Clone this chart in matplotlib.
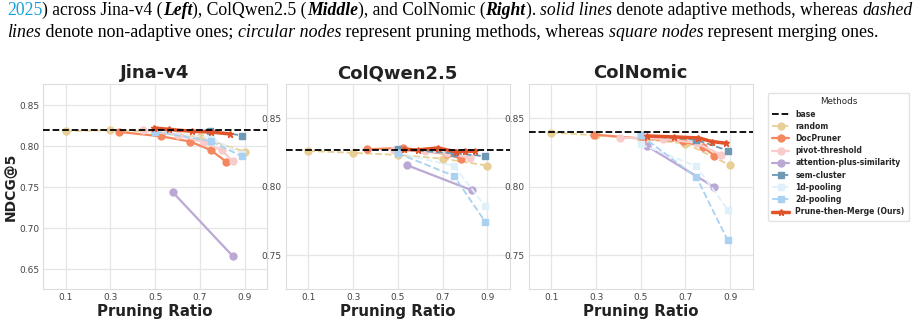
import numpy as np
import matplotlib.pyplot as plt
import seaborn as sns

sns.set_style('whitegrid')
plt.rcParams['font.family'] = ['DejaVu Sans']

panels = ['Jina-v4', 'ColQwen2.5', 'ColNomic']
base = [0.8196, 0.8267, 0.8400]
ylims = [(0.626, 0.876), (0.7255, 0.875), (0.7255, 0.875)]

methods = ['random', 'DocPruner', 'pivot-threshold', 'attention-plus-similarity',
           'sem-cluster', '1d-pooling', '2d-pooling', 'Prune-then-Merge (Ours)']

# (x, y) per panel: Jina-v4, ColQwen2.5, ColNomic
random_x = [[0.1, 0.3, 0.5, 0.7, 0.9], [0.1, 0.3, 0.5, 0.7, 0.9], [0.1, 0.3, 0.5, 0.7, 0.9]]
random_y = [[0.8187, 0.8195, 0.8180, 0.8114, 0.7935],
            [0.8262, 0.8248, 0.8233, 0.8206, 0.8155],
            [0.8396, 0.8376, 0.8350, 0.8316, 0.8158]]

docpruner_x = [[0.339, 0.528, 0.658, 0.748, 0.818], [0.361, 0.521, 0.721, 0.782], [0.291, 0.508, 0.689, 0.779, 0.829]]
docpruner_y = [[0.8175, 0.8122, 0.8057, 0.7955, 0.7813],
               [0.8274, 0.8284, 0.8238, 0.8206],
               [0.8381, 0.8352, 0.8333, 0.8289, 0.8228]]

pivot_x = [[0.447, 0.604, 0.719, 0.798, 0.847], [0.481, 0.62, 0.72, 0.821], [0.409, 0.60, 0.75, 0.859]]
pivot_y = [[0.8195, 0.8134, 0.8050, 0.7950, 0.7817],
           [0.8268, 0.8262, 0.8245, 0.8212],
           [0.8359, 0.8350, 0.8320, 0.8233]]

attn_x = [[0.578, 0.848], [0.541, 0.830], [0.529, 0.829]]
attn_y = [[0.7443, 0.6659], [0.8158, 0.7976], [0.8296, 0.7998]]

semc_x = [[0.5, 0.747, 0.888], [0.5, 0.751, 0.892], [0.5, 0.749, 0.889]]
semc_y = [[0.8190, 0.8192, 0.8132], [0.8274, 0.8245, 0.8223], [0.8376, 0.8342, 0.8265]]

pool1d_x = [[0.5, 0.748, 0.888], [0.5, 0.751, 0.892], [0.5, 0.749, 0.889]]
pool1d_y = [[0.8185, 0.8105, 0.7910], [0.8245, 0.8153, 0.7857], [0.8310, 0.8150, 0.7833]]

pool2d_x = [[0.5, 0.748, 0.888], [0.5, 0.751, 0.892], [0.5, 0.749, 0.889]]
pool2d_y = [[0.8180, 0.8065, 0.7878], [0.8245, 0.8080, 0.7743], [0.8376, 0.8070, 0.7610]]

ptm_x = [[0.497, 0.56, 0.667, 0.748, 0.836], [0.526, 0.589, 0.68, 0.761, 0.80, 0.845],
         [0.529, 0.649, 0.758, 0.819, 0.882]]
ptm_y = [[0.8224, 0.8207, 0.8183, 0.8175, 0.8150],
         [0.8274, 0.8269, 0.8284, 0.8255, 0.8260, 0.8260],
         [0.8371, 0.8364, 0.8357, 0.8330, 0.8318]]

series = [
    (random_x, random_y, '#e8cf96', '--', 'o', 1.3, 5),
    (docpruner_x, docpruner_y, '#f5875f', '-', 'o', 1.6, 5),
    (pivot_x, pivot_y, '#f8cccb', '-', 'o', 1.6, 5),
    (attn_x, attn_y, '#bca8d4', '-', 'o', 1.6, 5),
    (semc_x, semc_y, '#6e99b4', '--', 's', 1.3, 5),
    (pool1d_x, pool1d_y, '#dff0fb', '--', 's', 1.3, 5),
    (pool2d_x, pool2d_y, '#a9d1f2', '--', 's', 1.3, 5),
    (ptm_x, ptm_y, '#e1532a', '-', '*', 2.5, 4.5),
]

fig = plt.figure(figsize=(9.2, 3.22), dpi=100)
lefts = [0.0471, 0.3109, 0.575]
axes = [fig.add_axes([l, 0.1025, 0.243, 0.6366]) for l in lefts]

for i, ax in enumerate(axes):
    ax.axhline(base[i], color='black', ls='--', lw=1.3, label='base', zorder=3)
    for (xs, ys, c, ls, m, lw, ms), name in zip(series, methods):
        ax.plot(xs[i], ys[i], color=c, ls=ls, marker=m, lw=lw, ms=ms, label=name)
    ax.set_xlim(0, 1.0)
    ax.set_ylim(*ylims[i])
    ax.set_xticks([0.1, 0.3, 0.5, 0.7, 0.9])
    ax.set_title(panels[i], fontsize=13, fontweight='bold', pad=4, color='#222222')
    ax.set_xlabel('Pruning Ratio', fontsize=10.8, fontweight='bold', labelpad=1, color='#222222')
    ax.tick_params(labelsize=6.5, colors='#444444', pad=3, length=0)
    ax.grid(color='#e6e6e6', lw=0.9)
    for s in ax.spines.values():
        s.set_color('#dddddd')
axes[0].set_yticks([0.65, 0.70, 0.75, 0.80, 0.85])
for ax in axes[1:]:
    ax.set_yticks([0.75, 0.80, 0.85])
axes[0].set_ylabel('NDCG@5', fontsize=10, fontweight='bold', labelpad=1, color='#222222')

handles, labels = axes[0].get_legend_handles_labels()
leg = fig.legend(handles, labels, title='Methods', loc='upper left',
                 bbox_to_anchor=(0.8304, 0.7236), fontsize=5.5, title_fontsize=6.3,
                 frameon=True, handlelength=2.2, labelspacing=0.42, borderpad=0.6,
                 handletextpad=0.8)
for t in leg.get_texts():
    t.set_fontweight('bold')
leg.get_frame().set_edgecolor('#dddddd')

# caption text above the figure
line1 = [('2025', 'normal', 'normal', '#1a9fdc'),
         (') across Jina-v4 (', 'normal', 'normal', 'black'),
         ('Left', 'italic', 'bold', 'black'),
         ('), ColQwen2.5 (', 'normal', 'normal', 'black'),
         ('Middle', 'italic', 'bold', 'black'),
         ('), and ColNomic (', 'normal', 'normal', 'black'),
         ('Right', 'italic', 'bold', 'black'),
         ('). ', 'normal', 'normal', 'black'),
         ('solid lines', 'italic', 'normal', 'black'),
         (' denote adaptive methods, whereas ', 'normal', 'normal', 'black'),
         ('dashed', 'italic', 'normal', 'black')]
line2 = [('lines', 'italic', 'normal', 'black'),
         (' denote non-adaptive ones; ', 'normal', 'normal', 'black'),
         ('circular nodes', 'italic', 'normal', 'black'),
         (' represent pruning methods, whereas ', 'normal', 'normal', 'black'),
         ('square nodes', 'italic', 'normal', 'black'),
         (' represent merging ones.', 'normal', 'normal', 'black')]

renderer = fig.canvas.get_renderer()


def write_line(parts, ybase, size):
    x = 7 / 920
    texts = []
    for txt, style, weight, col in parts:
        t = fig.text(x, ybase, txt, fontsize=size, family='Liberation Serif',
                     style=style, weight=weight, color=col, va='baseline', ha='left')
        bb = t.get_window_extent(renderer)
        x = bb.x1 / fig.bbox.width
        texts.append(t)
    return texts, x * 920


# fit each line to the width it takes in the reference
for parts, ybase, right in [(line1, 1 - 15 / 322, 912), (line2, 1 - 37 / 322, 878)]:
    texts, end = write_line(parts, ybase, 12)
    size = 12 * (right - 7) / (end - 7)
    for t in texts:
        t.remove()
    write_line(parts, ybase, size)

fig.savefig('out.png', dpi=100)
